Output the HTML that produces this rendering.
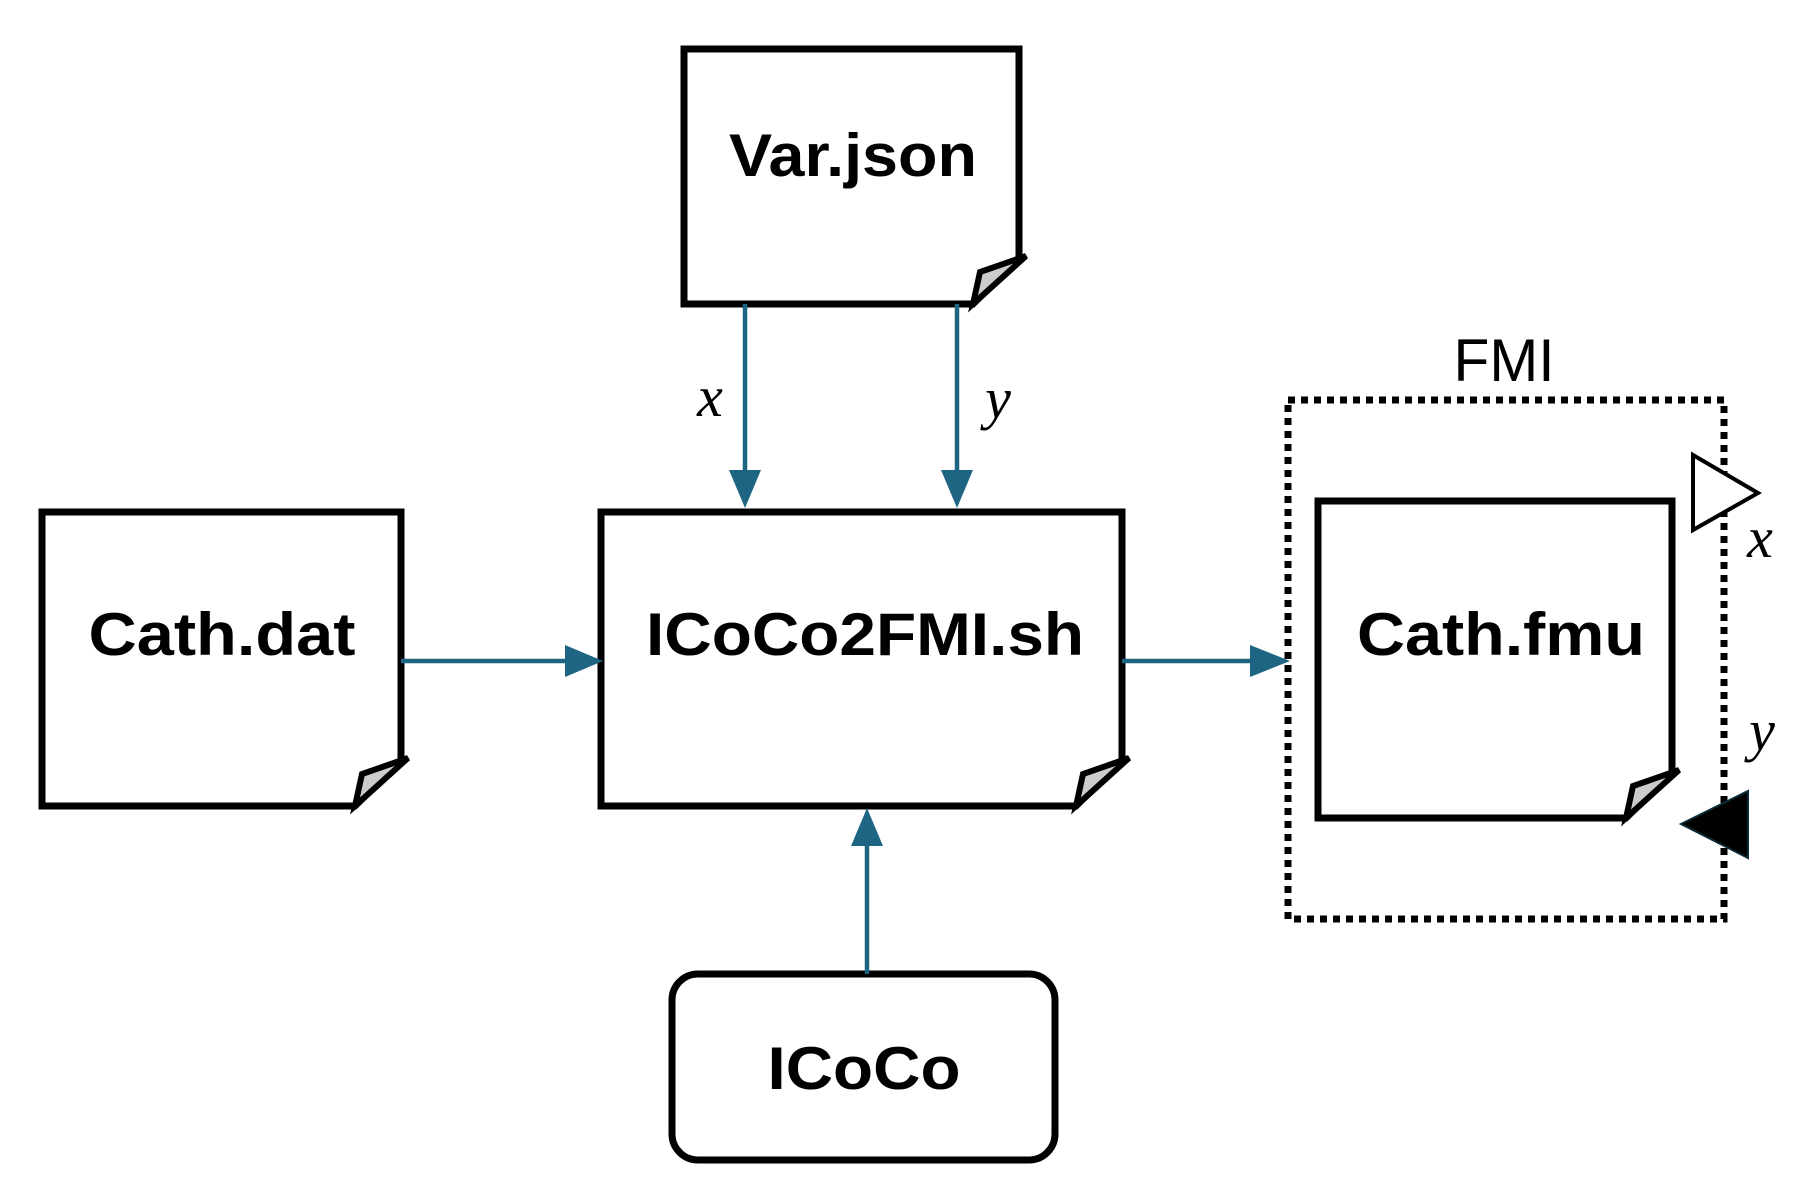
<!DOCTYPE html>
<html><head><meta charset="utf-8"><style>html,body{margin:0;padding:0;background:#fff}svg{display:block}</style></head>
<body>
<svg width="1809" height="1204" viewBox="0 0 1809 1204" xmlns="http://www.w3.org/2000/svg">
<g fill="none" stroke="#000" stroke-width="7" stroke-linejoin="miter">
<path d="M684,49 H1019 V258 L973,304 H684 Z" fill="#fff"/>
<path d="M42,512 H401 V760 L355,806 H42 Z" fill="#fff"/>
<path d="M601,512 H1122 V760 L1076,806 H601 Z" fill="#fff"/>
<path d="M1318,501 H1672 V772 L1626,818 H1318 Z" fill="#fff"/>
<rect x="672" y="974" width="383" height="186" rx="26" fill="#fff"/>
</g>
<g fill="#ccc" stroke="#000" stroke-width="6" stroke-linejoin="miter">
<path d="M973,304 L980,272 L1026,256 Z"/>
<path d="M355,806 L362,774 L408,758 Z"/>
<path d="M1076,806 L1083,774 L1129,758 Z"/>
<path d="M1626,818 L1633,786 L1679,770 Z"/>
</g>
<rect x="1288" y="400" width="436" height="519" fill="none" stroke="#000" stroke-width="7" stroke-dasharray="7 6"/>
<g stroke="#1e6584" stroke-width="4.5" fill="#1e6584">
<line x1="745" y1="304" x2="745" y2="480"/>
<path d="M729,470 L761,470 L745,508 Z" stroke="none"/>
<line x1="957" y1="304" x2="957" y2="480"/>
<path d="M941,470 L973,470 L957,508 Z" stroke="none"/>
<line x1="401" y1="661" x2="575" y2="661"/>
<path d="M565,645 L565,677 L603,661 Z" stroke="none"/>
<line x1="1122" y1="661" x2="1260" y2="661"/>
<path d="M1250,645 L1250,677 L1290,661 Z" stroke="none"/>
<line x1="867" y1="974" x2="867" y2="836"/>
<path d="M851,846 L883,846 L867,808 Z" stroke="none"/>
</g>
<path d="M1693,455 L1758,493 L1693,530 Z" fill="#fff" stroke="#000" stroke-width="4"/>
<path d="M1748,791 L1748,858 L1681,824 Z" fill="#000" stroke="#0b2a38" stroke-width="2"/>
<g font-family="Liberation Sans, sans-serif" font-weight="bold" font-size="60" text-anchor="middle" fill="#000">
<text x="853" y="176" textLength="248" lengthAdjust="spacingAndGlyphs">Var.json</text>
<text x="222" y="655" textLength="267" lengthAdjust="spacingAndGlyphs">Cath.dat</text>
<text x="865" y="655" textLength="438" lengthAdjust="spacingAndGlyphs">ICoCo2FMI.sh</text>
<text x="1501" y="655" textLength="288" lengthAdjust="spacingAndGlyphs">Cath.fmu</text>
<text x="864" y="1089" textLength="193" lengthAdjust="spacingAndGlyphs">ICoCo</text>
</g>
<text x="1504" y="381" font-family="Liberation Sans, sans-serif" font-size="60" text-anchor="middle" textLength="101" lengthAdjust="spacingAndGlyphs">FMI</text>
<g font-family="Liberation Serif, serif" font-style="italic" font-size="58" text-anchor="middle">
<text x="710" y="416">x</text>
<text x="998" y="418">y</text>
<text x="1760" y="557">x</text>
<text x="1762" y="750">y</text>
</g>
</svg>
</body></html>
